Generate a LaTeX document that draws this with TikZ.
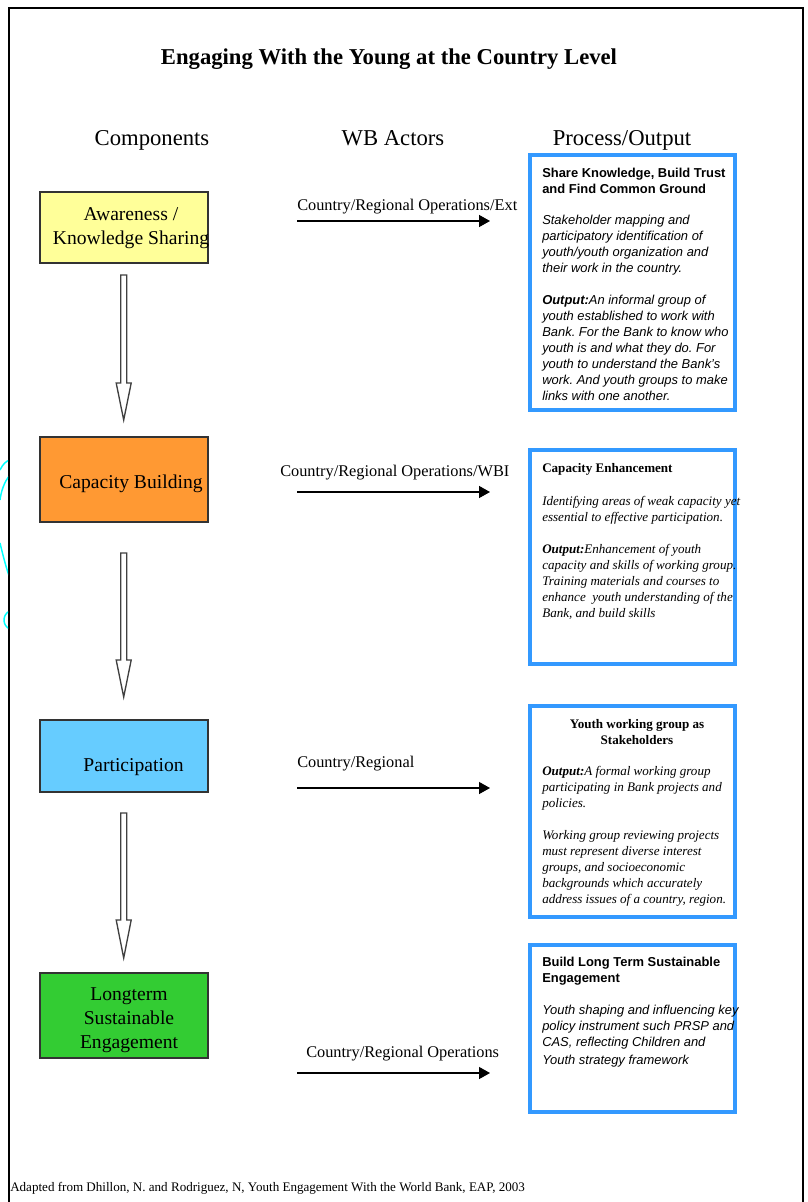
\documentclass[tikz,border=0pt]{standalone}
\usepackage{fontspec}
\setmainfont{Liberation Serif}
\setsansfont{Liberation Sans}
\usetikzlibrary{arrows.meta}
\definecolor{boxyellow}{HTML}{FFFF99}
\definecolor{boxorange}{HTML}{FF9933}
\definecolor{boxblue}{HTML}{66CCFF}
\definecolor{boxgreen}{HTML}{33CC33}
\definecolor{frameblue}{HTML}{3399FF}
\definecolor{scribble}{HTML}{00FFFF}
\frenchspacing
\begin{document}
\frenchspacing
\begin{tikzpicture}[x=0.75pt,y=-0.75pt,
 comp/.style={draw=black!80, line width=0.9pt, minimum width=126pt, inner sep=0pt},
 comptext/.style={align=center, font=\fontsize{14.7}{18}\selectfont, inner sep=0pt},
 outbox/.style={draw=frameblue, line width=3pt, minimum width=153.75pt, inner sep=0pt},
 hdr/.style={font=\fontsize{17}{20}\selectfont, inner sep=0pt, anchor=base},
 actor/.style={font=\fontsize{12.25}{14}\selectfont, anchor=base west, inner sep=0pt},
 flow/.style={line width=1pt, -{Triangle[length=8.25pt,width=9pt]}},
 sanstitle/.style={font=\sffamily\bfseries\fontsize{9.7}{12}\selectfont, anchor=north west, align=left, inner sep=0pt},
 sansbody/.style={font=\sffamily\itshape\fontsize{9.7}{12}\selectfont, anchor=north west, align=left, inner sep=0pt},
 seriftitle/.style={font=\bfseries\fontsize{9.8}{12}\selectfont, inner sep=0pt},
 serifbody/.style={font=\itshape\fontsize{9.8}{12}\selectfont, anchor=north west, align=left, inner sep=0pt},
 hollow/.style={draw=black!75, line width=1pt, fill=white, line join=miter},
 scribbleline/.style={draw=scribble, line width=1.1pt}
]
\useasboundingbox (0,0) rectangle (807,1202);
\fill[white] (0,0) rectangle (807,1202);

% outer frame
\draw[line width=1.5pt] (9,1202) -- (9,8) -- (803,8) -- (803,1202);

% cyan scribbles outside the frame
\begin{scope}
\clip (0,400) rectangle (8.2,660);
\draw[scribbleline] (0,470) .. controls (3,464) and (6,461) .. (10,460);
\draw[scribbleline] (10,475) .. controls (4,482) and (1,492) .. (0,500);
\draw[scribbleline] (0,543) .. controls (3,555) and (6,568) .. (10,578);
\draw[scribbleline] (10,611) .. controls (2,614) and (2,626) .. (10,629);
\end{scope}

% title and headers
\node[font=\bfseries\fontsize{17}{20}\selectfont, inner sep=0pt, anchor=base] (title) at (389,64.5) {Engaging With the Young at the Country Level};
\node[hdr] (hcomp) at (152,146) {Components};
\node[hdr] (hact) at (393,146) {WB Actors};
\node[hdr] (hproc) at (622,146) {Process/Output};

% components
\node[comp, fill=boxyellow, minimum height=53.25pt] (c1) at (124,227.5) {};
\node[comp, fill=boxorange, minimum height=63.75pt] (c2) at (124,479.5) {};
\node[comp, fill=boxblue, minimum height=54pt] (c3) at (124,756) {};
\node[comp, fill=boxgreen, minimum height=63.75pt] (c4) at (124,1015.5) {};
\node[comptext] (c1t) at (131,228.5) {Awareness /\\Knowledge Sharing};
\node[comptext] (c2t) at (131,483.5) {Capacity Building};
\node[comptext] (c3t) at (133.5,767) {Participation};
\node[comptext] (c4t) at (129,1020.5) {Longterm\\Sustainable\\Engagement};

% hollow block arrows between components
\coordinate (b1) at (123.7,275);
\coordinate (b2) at (123.7,553);
\coordinate (b3) at (123.7,813);
\draw[hollow] (b1) ++(-3,0) -- ++(6,0) -- ++(0,108) -- ++(4.5,0) -- ++(-7.5,37) -- ++(-7.5,-37) -- ++(4.5,0) -- cycle;
\draw[hollow] (b2) ++(-3,0) -- ++(6,0) -- ++(0,107) -- ++(4.5,0) -- ++(-7.5,37) -- ++(-7.5,-37) -- ++(4.5,0) -- cycle;
\draw[hollow] (b3) ++(-3,0) -- ++(6,0) -- ++(0,107) -- ++(4.5,0) -- ++(-7.5,38) -- ++(-7.5,-38) -- ++(4.5,0) -- cycle;

% WB actors arrows
\coordinate (a1s) at (297,221); \coordinate (a1e) at (490,221);
\coordinate (a2s) at (297,492); \coordinate (a2e) at (490,492);
\coordinate (a3s) at (297,788); \coordinate (a3e) at (490,788);
\coordinate (a4s) at (297,1073); \coordinate (a4e) at (490,1073);
\draw[flow] (a1s) -- (a1e);
\draw[flow] (a2s) -- (a2e);
\draw[flow] (a3s) -- (a3e);
\draw[flow] (a4s) -- (a4e);
\node[actor] (l1) at (297,210) {Country/Regional Operations/Ext};
\node[actor] (l2) at (280,476) {Country/Regional Operations/WBI};
\node[actor] (l3) at (297,767) {Country/Regional};
\node[actor] (l4) at (306,1057) {Country/Regional Operations};

% process / output boxes
\node[outbox, minimum height=191.25pt] (p1) at (632.5,282.5) {};
\node[outbox, minimum height=160.5pt] (p2) at (632.5,557) {};
\node[outbox, minimum height=158.25pt] (p3) at (632.5,811.5) {};
\node[outbox, minimum height=125.25pt] (p4) at (632.5,1028.5) {};

% box 1 text
\node[sanstitle] (t1) at (542,167.6) {Share Knowledge, Build Trust\\and Find Common Ground};
\node[sansbody] (d1) at (542,214.6) {Stakeholder mapping and\\participatory identification of\\youth/youth organization and\\their work in the country.\\[12pt]{\bfseries Output:}An informal group of\\youth established to work with\\Bank. For the Bank to know who\\youth is and what they do. For\\youth to understand the Bank’s\\work. And youth groups to make\\links with one another.};

% box 2 text
\node[seriftitle, anchor=north west] (t2) at (542,463.2) {Capacity Enhancement};
\node[serifbody] (d2) at (542,496) {Identifying areas of weak capacity yet\\essential to effective participation.\\[12pt]{\bfseries Output:}Enhancement of youth\\capacity and skills of working group.\\Training materials and courses to\\enhance\ \ youth understanding of the\\Bank, and build skills};

% box 3 text
\node[seriftitle, anchor=north, align=center] (t3) at (637,719) {Youth working group as\\Stakeholders};
\node[serifbody] (d3) at (542,766.3) {{\bfseries Output:}A formal working group\\participating in Bank projects and\\policies.\\[12pt]Working group reviewing projects\\must represent diverse interest\\groups, and socioeconomic\\backgrounds which accurately\\address issues of a country, region.};

% box 4 text
\node[sanstitle] (t4) at (542,956.6) {Build Long Term Sustainable\\Engagement};
\node[sansbody] (d4) at (542,1004.6) {Youth shaping and influencing key\\policy instrument such PRSP and\\CAS, reflecting Children and\\[2pt]Youth strategy framework};

% footer
\node[font=\fontsize{9.8}{12}\selectfont, anchor=base west, inner sep=0pt] (src) at (10,1191) {Adapted from Dhillon, N. and Rodriguez, N, Youth Engagement With the World Bank, EAP, 2003};
\end{tikzpicture}
\end{document}
